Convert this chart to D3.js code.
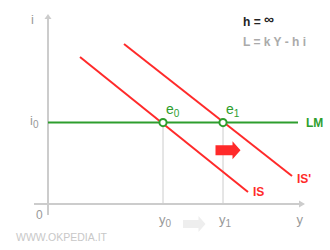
<!DOCTYPE html>
<html>
<head>
<meta charset="utf-8">
<script src="https://cdn.jsdelivr.net/npm/d3@7"></script>
<style>
  html, body { margin: 0; padding: 0; background: #fff; }
  svg { display: block; font-family: Arial, "Liberation Sans", sans-serif; }
</style>
</head>
<body>
<svg id="chart" width="330" height="250"></svg>
<script>
// Model values (income y on the horizontal axis, interest rate i on the vertical axis)
const i0 = 44;                                  // interest rate fixed by the flat LM (h = ∞)
const lmSpan = [0, 100];                        // horizontal extent of LM
const isCurve = [[12.8, 79.5], [80, 6.5]];      // original IS
const isShifted = [[30.4, 86.5], [97.6, 15.1]]; // IS after the rightward shift
const equilibria = [
  { name: "e", sub: "0", y: 46, i: i0 },
  { name: "e", sub: "1", y: 70, i: i0 }
];
const xTickLabels = [
  { name: "y", sub: "0", y: 46 },
  { name: "y", sub: "1", y: 70 },
  { name: "y", sub: "",  y: 101 }
];
const shiftArrow = [67, 77];     // red arrow, income units
const shiftArrowI = 29;          // red arrow height, interest units
const guideArrow = [54, 63];     // grey arrow between y0 and y1

const svg = d3.select("#chart");
const x = d3.scaleLinear().domain([0, 100]).range([48, 298]);
const yS = d3.scaleLinear().domain([0, 100]).range([204, 19]);

const red = "#ff2a2a", green = "#2e9e2e", axisGrey = "#cccccc", labelGrey = "#999999";

// Axes
svg.append("line").attr("x1", x(-5.6)).attr("x2", x(100.4)).attr("y1", yS(0)).attr("y2", yS(0))
  .attr("stroke", axisGrey).attr("stroke-width", 2);
svg.append("line").attr("x1", x(0)).attr("x2", x(0)).attr("y1", yS(-6)).attr("y2", yS(100))
  .attr("stroke", axisGrey).attr("stroke-width", 2);
// Arrow heads
svg.append("path")
  .attr("d", `M${x(100.4)},${yS(0) - 3.5} L${x(100.4) + 6},${yS(0)} L${x(100.4)},${yS(0) + 3.5} Z`)
  .attr("fill", axisGrey);
svg.append("path")
  .attr("d", `M${x(0) - 3.5},${yS(100)} L${x(0)},${yS(100) - 5} L${x(0) + 3.5},${yS(100)} Z`)
  .attr("fill", axisGrey);

// Vertical guides from equilibria to the income axis
svg.selectAll(".guide").data(equilibria).enter().append("line")
  .attr("x1", d => x(d.y)).attr("x2", d => x(d.y))
  .attr("y1", d => yS(d.i)).attr("y2", yS(0))
  .attr("stroke", axisGrey).attr("stroke-width", 1);

// LM line
svg.append("line").attr("x1", x(lmSpan[0])).attr("x2", x(lmSpan[1]))
  .attr("y1", yS(i0)).attr("y2", yS(i0))
  .attr("stroke", green).attr("stroke-width", 2);

// IS curves
const line = d3.line().x(d => x(d[0])).y(d => yS(d[1]));
[isCurve, isShifted].forEach(c => {
  svg.append("path").attr("d", line(c)).attr("stroke", red).attr("stroke-width", 2).attr("fill", "none");
});

// Equilibrium points
svg.selectAll(".eq").data(equilibria).enter().append("circle")
  .attr("cx", d => x(d.y)).attr("cy", d => yS(d.i)).attr("r", 3.6)
  .attr("fill", "#fff").attr("stroke", green).attr("stroke-width", 2);

// Equilibrium labels
equilibria.forEach(d => {
  const t = svg.append("text").attr("x", x(d.y) + 3).attr("y", yS(d.i) - 9)
    .attr("fill", green).attr("font-size", 14);
  t.append("tspan").text(d.name);
  t.append("tspan").attr("font-size", 10).attr("dy", 3).text(d.sub);
});

// Red shift arrow
const ax0 = x(shiftArrow[0]), ax1 = x(shiftArrow[1]), ay = yS(shiftArrowI);
svg.append("path")
  .attr("d", `M${ax0},${ay - 5} L${ax1 - 8},${ay - 5} L${ax1 - 8},${ay - 9} L${ax1},${ay} L${ax1 - 8},${ay + 9} L${ax1 - 8},${ay + 5} L${ax0},${ay + 5} Z`)
  .attr("fill", red);

// Grey arrow between income levels
const gx0 = x(guideArrow[0]), gx1 = x(guideArrow[1]), gy = 224;
svg.append("path")
  .attr("d", `M${gx0},${gy - 4} L${gx1 - 7},${gy - 4} L${gx1 - 7},${gy - 8} L${gx1},${gy} L${gx1 - 7},${gy + 8} L${gx1 - 7},${gy + 4} L${gx0},${gy + 4} Z`)
  .attr("fill", "#eeeeee");

// Curve labels
svg.append("text").attr("x", x(isCurve[1][0]) + 5).attr("y", yS(isCurve[1][1]) + 4)
  .attr("fill", red).attr("font-size", 12).attr("font-weight", "bold").text("IS");
svg.append("text").attr("x", x(isShifted[1][0]) + 5).attr("y", yS(isShifted[1][1]) + 7)
  .attr("fill", red).attr("font-size", 12).attr("font-weight", "bold").text("IS'");
svg.append("text").attr("x", x(lmSpan[1]) + 8).attr("y", yS(i0) + 4)
  .attr("fill", green).attr("font-size", 12).attr("font-weight", "bold").text("LM");

// Axis labels
xTickLabels.forEach(d => {
  const t = svg.append("text").attr("x", x(d.y) - 4).attr("y", 224)
    .attr("fill", labelGrey).attr("font-size", 13);
  t.append("tspan").text(d.name);
  if (d.sub) t.append("tspan").attr("font-size", 10).attr("dy", 3).text(d.sub);
});
svg.append("text").attr("x", 31).attr("y", 24).attr("fill", labelGrey).attr("font-size", 13).text("i");
const iLab = svg.append("text").attr("x", 30).attr("y", yS(i0) + 2).attr("fill", labelGrey).attr("font-size", 13);
iLab.append("tspan").text("i");
iLab.append("tspan").attr("font-size", 10).attr("dy", 3).text("0");
svg.append("text").attr("x", 36).attr("y", 219).attr("fill", labelGrey).attr("font-size", 12).text("0");

// Formula notes
const hNote = svg.append("text").attr("x", 243).attr("y", 26).attr("fill", "#222").attr("font-size", 12)
  .attr("font-weight", "bold");
hNote.append("tspan").text("h = ");
hNote.append("tspan").attr("font-size", 14).attr("dy", -2).text("∞");
svg.append("text").attr("x", 243).attr("y", 46).attr("fill", "#aaaaaa").attr("font-size", 12)
  .attr("font-weight", "bold").text("L = k Y - h i");

// Site mark
svg.append("text").attr("x", 16).attr("y", 241).attr("fill", "#c8c8c8").attr("font-size", 10.5)
  .text("WWW.OKPEDIA.IT");
</script>
</body>
</html>
